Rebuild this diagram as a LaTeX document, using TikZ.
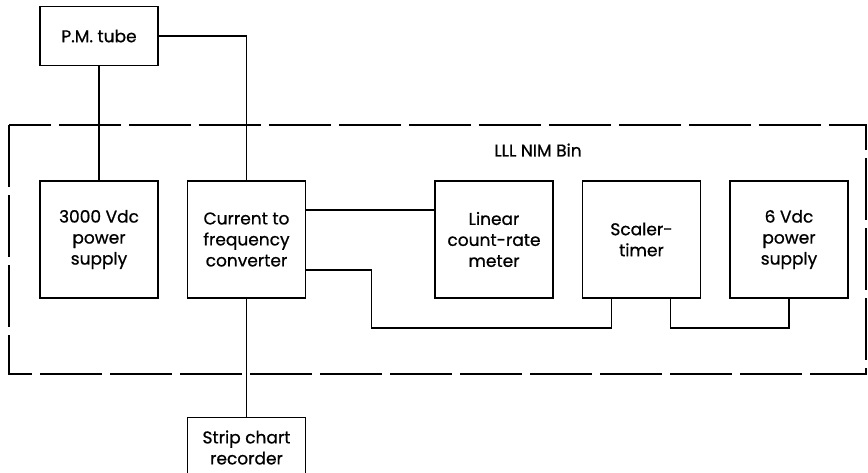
\documentclass[tikz,border=0pt]{standalone}
\usepackage{fontspec}
\setmainfont[FakeBold=0.8]{Poppins}
\usetikzlibrary{positioning}

\begin{document}
\begin{tikzpicture}[x=1pt,y=-1pt,node distance=28pt and 28pt, every node/.style={font=\fontsize{17}{21}\selectfont}, box/.style={draw,line width=1.5pt,minimum width=118pt,minimum height=117pt,align=center,inner sep=0pt}, wire/.style={line width=1.5pt}, bin/.style={line width=1.5pt,dash pattern=on 62pt off 8pt}]
\useasboundingbox (0,0) rectangle (868,473);
% NIM bin outline
\draw[bin] (9,125) rectangle (866,374);
\node (binlabel) at (538,150) {LLL NIM Bin};
% modules in the bin
\node[box] (hv) at (99,239.5) {3000 Vdc\\power\\supply};
\node[box,right=of hv] (conv) {Current to\\frequency\\converter};
\node[box,right=128pt of conv] (rate) {Linear\\count-rate\\meter};
\node[box,right=of rate] (scaler) {Scaler-\\timer};
\node[box,right=of scaler] (lv) {6 Vdc\\power\\supply};
% outside the bin
\node[box,minimum height=59pt,above=114pt of hv] (pmt) {P.M. tube};
\node[box,minimum height=60pt,below=118pt of conv] (rec) {Strip chart\\recorder};
% wiring
\draw[wire] (pmt) -- (hv);
\draw[wire] (pmt.east) -| (conv.north);
\draw[wire] ([yshift=29.5pt]conv.east) -- ([yshift=29.5pt]rate.west);
\draw[wire] ([yshift=-30.5pt]conv.east) -- ++(65,0) -- ++(0,58) -| ([xshift=-30pt]scaler.south);
\draw[wire] ([xshift=29pt]scaler.south) -- ++(0,29) -| (lv.south);
\draw[wire] (conv) -- (rec);
\end{tikzpicture}
\end{document}
